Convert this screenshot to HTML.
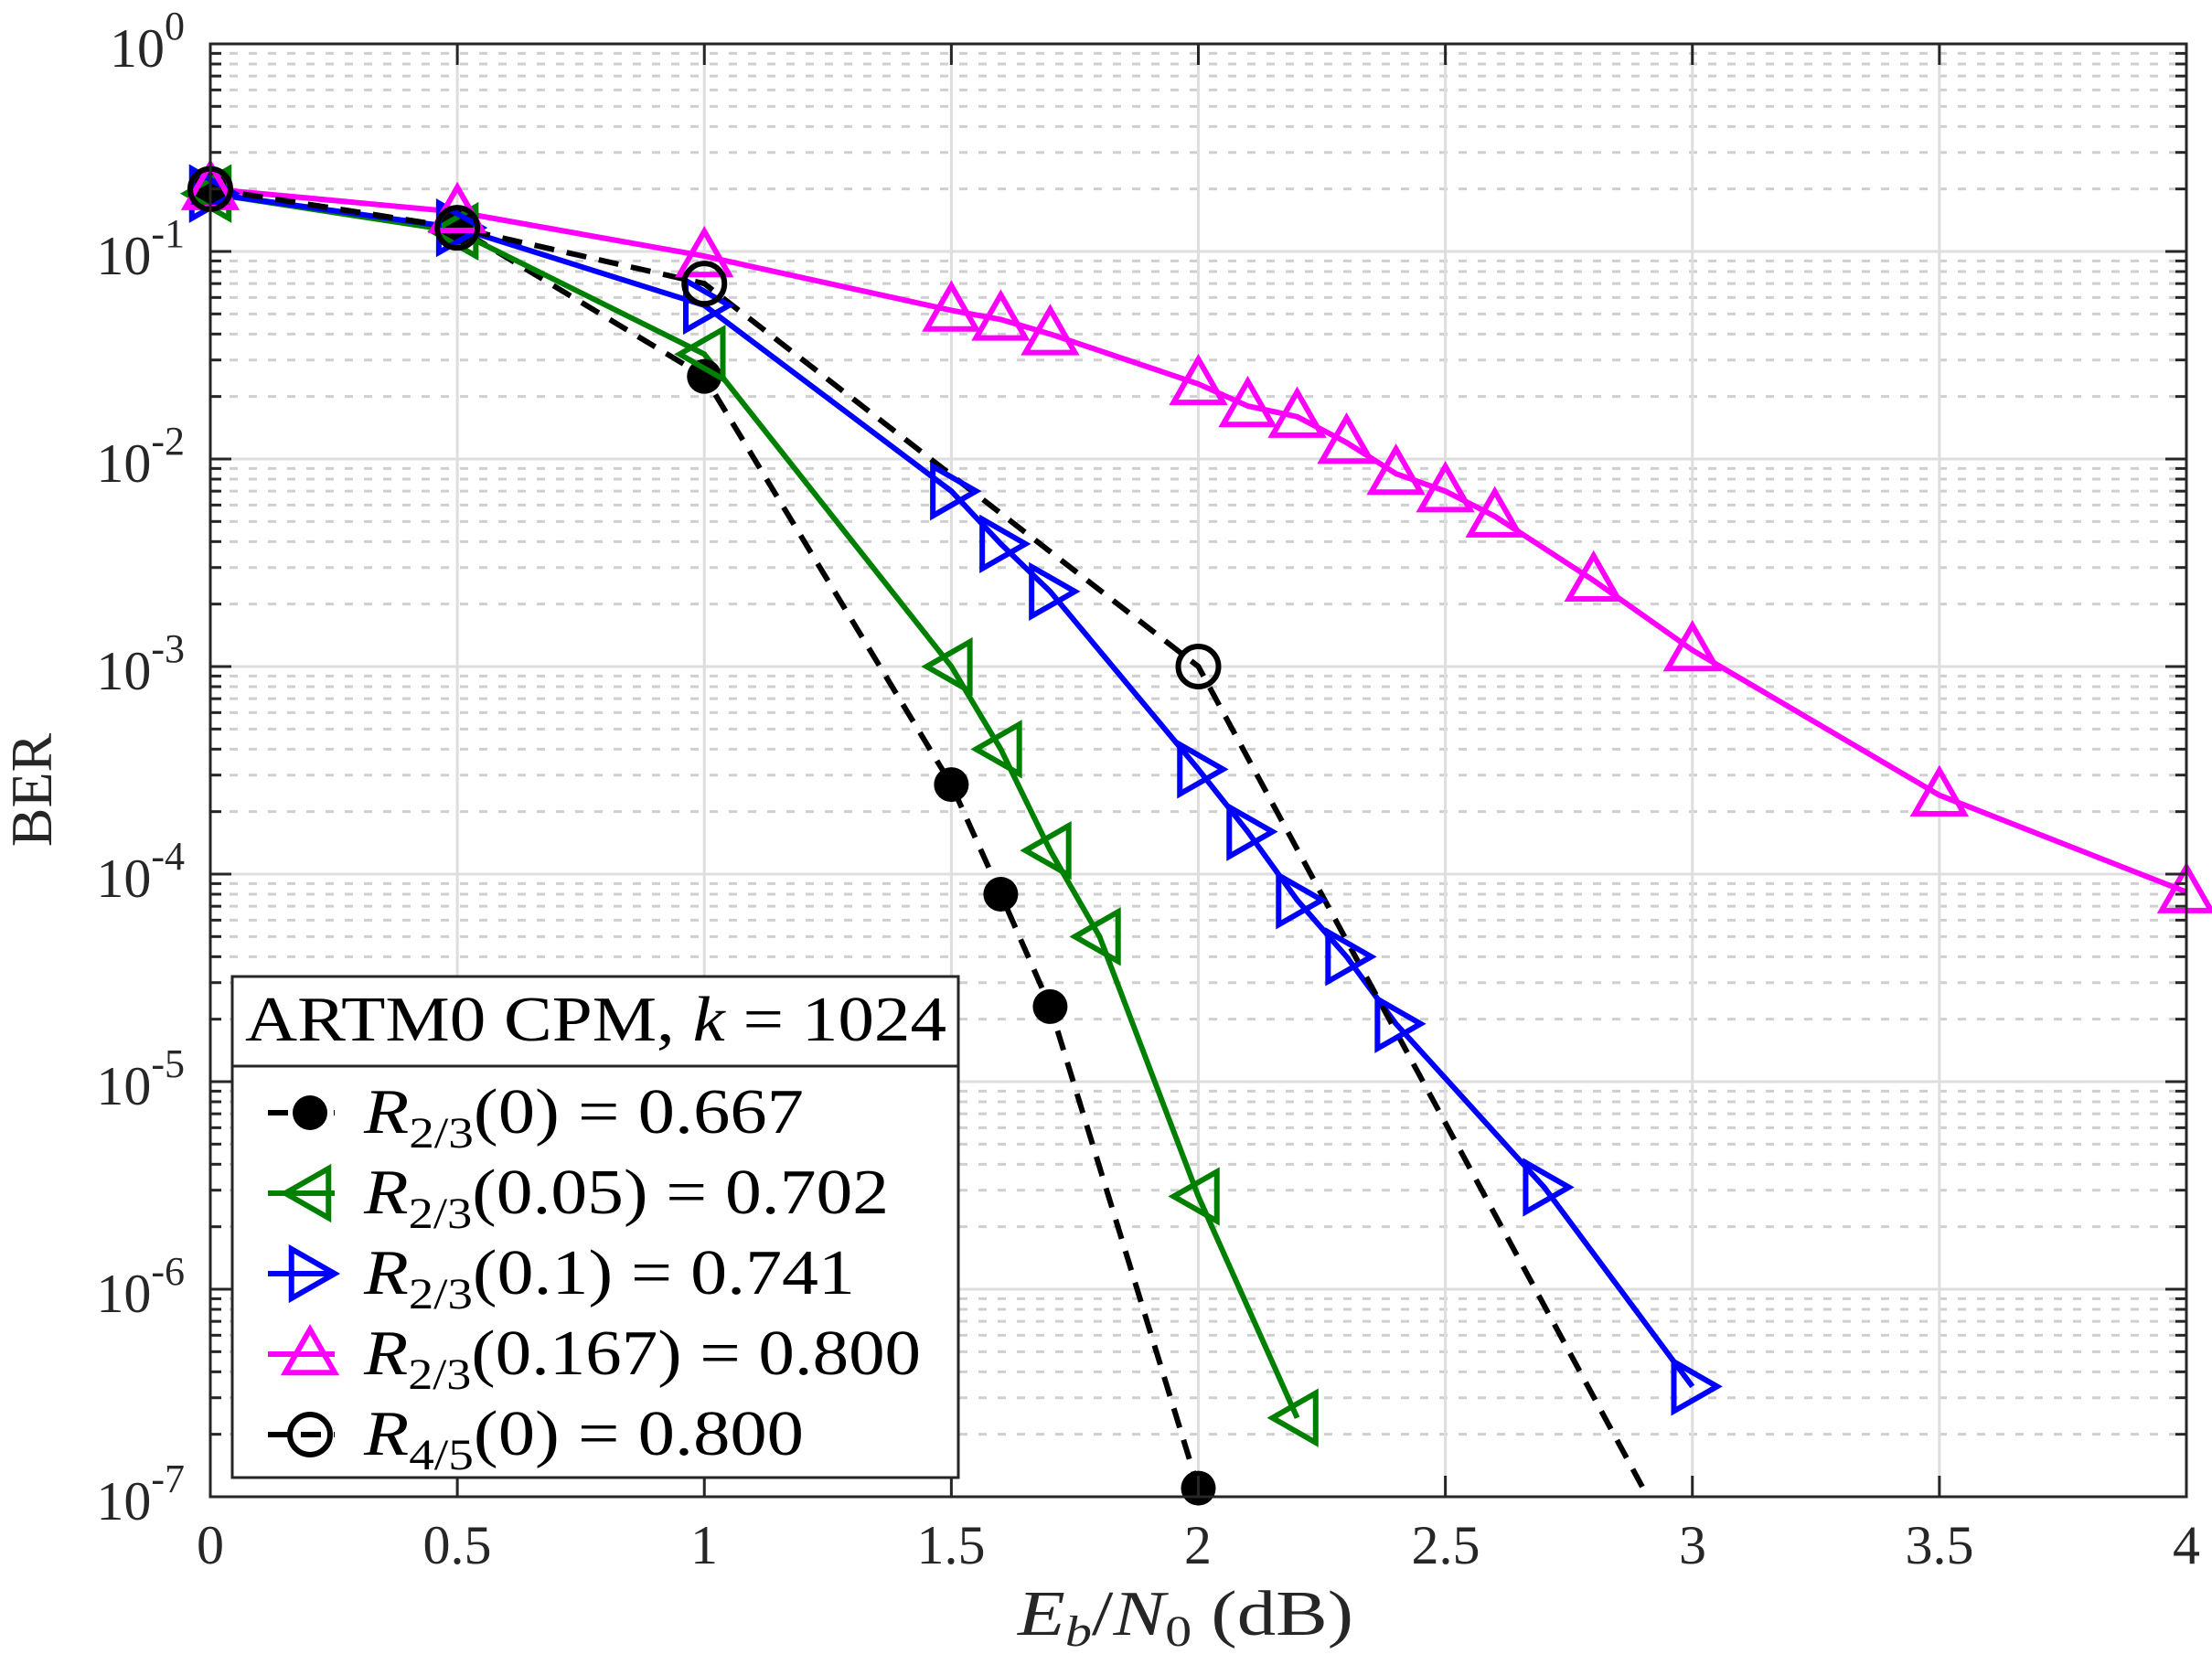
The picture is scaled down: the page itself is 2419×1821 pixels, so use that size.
<!DOCTYPE html>
<html><head><meta charset="utf-8"><style>
html,body{margin:0;padding:0;background:#fff;}
svg{display:block;}
text{font-family:"Liberation Serif",serif;fill:#262626;}
</style></head><body>
<svg id="s" width="2419" height="1821" xmlns="http://www.w3.org/2000/svg">
<defs><clipPath id="c"><rect x="230" y="48" width="2161" height="1589"/></clipPath></defs>
<rect x="230" y="48" width="2161" height="1589" fill="#fff"/>
<g id="grid"></g>
<g id="data" clip-path="url(#c)"></g>
<g id="mk"></g>
<rect x="230" y="48" width="2161" height="1589" fill="none" stroke="#262626" stroke-width="3"/>
<g id="ticks"></g>
<g font-size="60" text-anchor="end" id="ylab">
<text x="202" y="73">10<tspan dy="-30" font-size="44">0</tspan></text>
<text x="202" y="300">10<tspan dy="-30" font-size="44">-1</tspan></text>
<text x="202" y="527">10<tspan dy="-30" font-size="44">-2</tspan></text>
<text x="202" y="754">10<tspan dy="-30" font-size="44">-3</tspan></text>
<text x="202" y="981">10<tspan dy="-30" font-size="44">-4</tspan></text>
<text x="202" y="1208">10<tspan dy="-30" font-size="44">-5</tspan></text>
<text x="202" y="1435">10<tspan dy="-30" font-size="44">-6</tspan></text>
<text x="202" y="1662">10<tspan dy="-30" font-size="44">-7</tspan></text>
</g>
<g font-size="60" text-anchor="middle">
<text x="230" y="1710">0</text><text x="500" y="1710">0.5</text><text x="770" y="1710">1</text>
<text x="1040" y="1710">1.5</text><text x="1310" y="1710">2</text><text x="1581" y="1710">2.5</text>
<text x="1851" y="1710">3</text><text x="2121" y="1710">3.5</text><text x="2391" y="1710">4</text>
</g>
<text x="1113" y="1788" font-size="70" textLength="367" lengthAdjust="spacingAndGlyphs"><tspan font-style="italic">E</tspan><tspan font-style="italic" font-size="48" dy="12">b</tspan><tspan dy="-12">/</tspan><tspan font-style="italic">N</tspan><tspan font-size="48" dy="12">0</tspan><tspan dy="-12"> (dB)</tspan></text>
<text transform="translate(56,864) rotate(-90)" font-size="64" text-anchor="middle">BER</text>
<g>
<rect x="254" y="1068" width="794" height="548" fill="#fff" stroke="#262626" stroke-width="3"/>
<line x1="254" y1="1166" x2="1048" y2="1166" stroke="#262626" stroke-width="3"/>
<text x="268" y="1138" font-size="70" textLength="767" lengthAdjust="spacingAndGlyphs" style="fill:#000">ARTM0 CPM, <tspan font-style="italic">k</tspan> = 1024</text>
<g id="leg" font-size="70" style="fill:#000"></g>
</g>
</svg>
<script>
var NS="http://www.w3.org/2000/svg";
function el(p,t,a){var e=document.createElementNS(NS,t);for(var k in a)e.setAttribute(k,a[k]);p.appendChild(e);return e;}
function X(v){return 230+v*540.25;}
function Y(v){return 48-Math.log10(v)*227;}
var g=document.getElementById('grid'),tk=document.getElementById('ticks');
for(var d=0;d<7;d++){for(var m=2;m<=9;m++){var y=Y(m*Math.pow(10,-d-1));
el(g,'line',{x1:230,x2:2391,y1:y,y2:y,stroke:'#cfcfcf','stroke-width':3,'stroke-dasharray':'9 12'});
el(tk,'line',{x1:230,x2:242,y1:y,y2:y,stroke:'#262626','stroke-width':3});
el(tk,'line',{x1:2379,x2:2391,y1:y,y2:y,stroke:'#262626','stroke-width':3});}}
for(var d=1;d<7;d++){var y=Y(Math.pow(10,-d));el(g,'line',{x1:230,x2:2391,y1:y,y2:y,stroke:'#dedede','stroke-width':3});
el(tk,'line',{x1:230,x2:253,y1:y,y2:y,stroke:'#262626','stroke-width':3});el(tk,'line',{x1:2368,x2:2391,y1:y,y2:y,stroke:'#262626','stroke-width':3});}
for(var i=1;i<8;i++){var x=X(i*0.5);el(g,'line',{x1:x,x2:x,y1:48,y2:1637,stroke:'#dedede','stroke-width':3});
el(tk,'line',{x1:x,x2:x,y1:1614,y2:1637,stroke:'#262626','stroke-width':3});el(tk,'line',{x1:x,x2:x,y1:48,y2:71,stroke:'#262626','stroke-width':3});}
var S=[
{c:'#000',dash:true,m:'dot',p:[[0,0.2],[0.5,0.13],[1,0.025],[1.5,2.7e-4],[1.6,8e-5],[1.7,2.3e-5],[2,1.1e-7]]},
{c:'#008000',m:'left',p:[[0,0.19],[0.5,0.125],[1,0.032],[1.5,1e-3],[1.6,4e-4],[1.7,1.3e-4],[1.8,5e-5],[2,2.8e-6],[2.2,2.4e-7]]},
{c:'#0000ff',m:'right',p:[[0,0.19],[0.5,0.13],[1,0.055],[1.5,7e-3],[1.6,3.9e-3],[1.7,2.3e-3],[2,3.2e-4],[2.1,1.6e-4],[2.2,7.5e-5],[2.3,4e-5],[2.4,1.9e-5],[2.7,3.1e-6],[3,3.4e-7]]},
{c:'#ff00ff',m:'up',p:[[0,0.2],[0.5,0.155],[1,0.095],[1.5,0.052],[1.6,0.047],[1.7,0.04],[2,0.023],[2.1,0.018],[2.2,0.016],[2.3,0.012],[2.4,0.0085],[2.5,0.007],[2.6,0.0053],[2.8,0.0026],[3,0.0012],[3.5,2.4e-4],[4,8.2e-5]]},
{c:'#000',dash:true,m:'circ',p:[[0,0.2],[0.5,0.13],[1,0.07],[2,1e-3],[3,4e-8]],nm:[4]}];
var D=document.getElementById('data'),M=document.getElementById('mk'),L=document.getElementById('leg');
function marker(par,t,x,y,c){
 if(t=='dot')el(par,'circle',{cx:x,cy:y,r:19,fill:c});
 else if(t=='circ')el(par,'circle',{cx:x,cy:y,r:22,fill:'none',stroke:c,'stroke-width':6});
 else{var r=27,pts;
  if(t=='up')pts=[[x,y-r],[x-r,y+r*0.75],[x+r,y+r*0.75]];
  if(t=='left')pts=[[x-r,y],[x+r*0.75,y-r],[x+r*0.75,y+r]];
  if(t=='right')pts=[[x+r,y],[x-r*0.75,y-r],[x-r*0.75,y+r]];
  el(par,'polygon',{points:pts.map(function(q){return q.join(',')}).join(' '),fill:'none',stroke:c,'stroke-width':6});}
}
S.forEach(function(s){
 var pts=s.p.map(function(q){return X(q[0])+','+Y(q[1])}).join(' ');
 var a={points:pts,fill:'none',stroke:s.c,'stroke-width':6};if(s.dash)a['stroke-dasharray']='22 14';
 el(D,'polyline',a);
 s.p.forEach(function(q,i){if(s.nm&&s.nm.indexOf(i)>=0)return;marker(M,s.m,X(q[0]),Y(q[1]),s.c);});
});
var labs=['(0) = 0.667','(0.05) = 0.702','(0.1) = 0.741','(0.167) = 0.800','(0) = 0.800'];
var wid=[481,574,537,609,481];
for(var i=0;i<5;i++){var s=S[i],y=1217+i*88;
 var a={x1:293,x2:366,y1:y,y2:y,stroke:s.c,'stroke-width':6};if(s.dash)a['stroke-dasharray']='22 14';
 el(L,'line',a);marker(L,s.m,339,y,s.c);
 var t=el(L,'text',{x:398,y:y+22,textLength:wid[i],lengthAdjust:'spacingAndGlyphs'});t.style.fill='#000';
 var sub=(i==4)?'4/5':'2/3';
 t.innerHTML='<tspan font-style="italic">R</tspan><tspan font-size="48" dy="16">'+sub+'</tspan><tspan dy="-16">'+labs[i]+'</tspan>';
}
</script>
</body></html>
